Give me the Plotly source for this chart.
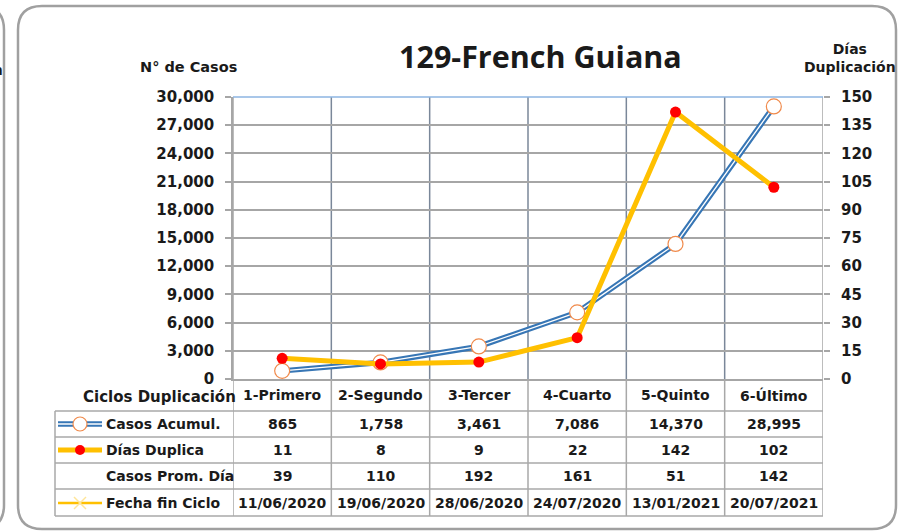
import plotly.graph_objects as go

# ─────────────────────────────────────────────
# Data
# ─────────────────────────────────────────────
ciclos = ["1-Primero", "2-Segundo", "3-Tercer", "4-Cuarto", "5-Quinto", "6-Último"]
casos_acumul = [865, 1758, 3461, 7086, 14370, 28995]
dias_duplica = [11, 8, 9, 22, 142, 102]
casos_prom_dia = [39, 110, 192, 161, 51, 142]
fecha_fin = ["11/06/2020", "19/06/2020", "28/06/2020", "24/07/2020", "13/01/2021", "20/07/2021"]

W, H = 898, 531
PL, PR, PT, PB = 233, 823, 97, 379   # plot area in pixels


def px_x(x):
    return (x - PL) / (PR - PL)


def px_y(y):
    return (PB - y) / (PB - PT)


FONT = "DejaVu Sans"
INK = "#1a1a1a"
BLUE = "#3776b5"
GOLD = "#ffc000"
GRID = "#a6a6a6"
TABLE = "#a8a8a8"

fig = go.Figure()

# Casos Acumul. - blue "double" line with hollow orange markers
fig.add_trace(go.Scatter(
    x=ciclos, y=casos_acumul, mode="lines", yaxis="y",
    line=dict(color=BLUE, width=5.5), hoverinfo="skip", showlegend=False,
))
fig.add_trace(go.Scatter(
    x=ciclos, y=casos_acumul, mode="lines+markers", yaxis="y",
    line=dict(color="white", width=1.3),
    marker=dict(symbol="circle", size=15, color="white",
                line=dict(color="#f08a4b", width=1.2)),
    name="Casos Acumul.", showlegend=False,
))

# Días Duplica - gold line with red markers on the right axis
fig.add_trace(go.Scatter(
    x=ciclos, y=dias_duplica, mode="lines+markers", yaxis="y2",
    line=dict(color=GOLD, width=5),
    marker=dict(symbol="circle", size=11, color="#ff0000"),
    name="Días Duplica", showlegend=False,
))

shapes = []
annotations = []

# vertical grid lines, through the plot and the table below
for i in range(7):
    xv = i - 0.5
    shapes.append(dict(type="line", xref="x", yref="paper", x0=xv, x1=xv,
                       y0=0, y1=1, line=dict(color="#7a8799" if 0 < i < 6 else GRID, width=1.5),
                       layer="below"))
    shapes.append(dict(type="line", xref="x", yref="paper", x0=xv, x1=xv,
                       y0=px_y(516), y1=0, line=dict(color=TABLE, width=1.5)))

# top border of the plot area in light blue
shapes.append(dict(type="line", xref="paper", yref="paper", x0=0, x1=1, y0=1, y1=1,
                   line=dict(color="#8db4e2", width=1.5)))

# table rows
row_lines = [411, 437, 463, 489, 516]
for yl in row_lines:
    shapes.append(dict(type="line", xref="paper", yref="paper",
                       x0=px_x(55), x1=1, y0=px_y(yl), y1=px_y(yl),
                       line=dict(color=TABLE, width=1.5)))
shapes.append(dict(type="line", xref="paper", yref="paper",
                   x0=px_x(55), x1=px_x(55), y0=px_y(411), y1=px_y(516),
                   line=dict(color=TABLE, width=1.5)))

# legend keys inside the table
ky1, ky2, ky4 = 424, 450, 503
shapes.append(dict(type="line", xref="paper", yref="paper", x0=px_x(58), x1=px_x(102),
                   y0=px_y(ky1), y1=px_y(ky1), line=dict(color=BLUE, width=5.5)))
shapes.append(dict(type="line", xref="paper", yref="paper", x0=px_x(58), x1=px_x(102),
                   y0=px_y(ky1), y1=px_y(ky1), line=dict(color="white", width=1.3)))
shapes.append(dict(type="circle", xref="paper", yref="paper", x0=px_x(73), x1=px_x(87),
                   y0=px_y(ky1 + 7), y1=px_y(ky1 - 7), fillcolor="white",
                   line=dict(color="#f08a4b", width=1.2)))
shapes.append(dict(type="line", xref="paper", yref="paper", x0=px_x(58), x1=px_x(102),
                   y0=px_y(ky2), y1=px_y(ky2), line=dict(color=GOLD, width=5)))
shapes.append(dict(type="circle", xref="paper", yref="paper", x0=px_x(75), x1=px_x(85),
                   y0=px_y(ky2 + 5), y1=px_y(ky2 - 5), fillcolor="#ff0000",
                   line=dict(color="#ff0000", width=0)))
shapes.append(dict(type="line", xref="paper", yref="paper", x0=px_x(58), x1=px_x(102),
                   y0=px_y(ky4), y1=px_y(ky4), line=dict(color=GOLD, width=2.5)))
for d in (-1, 1):
    shapes.append(dict(type="line", xref="paper", yref="paper", x0=px_x(74), x1=px_x(86),
                       y0=px_y(ky4 - 6 * d), y1=px_y(ky4 + 6 * d),
                       line=dict(color="#ffe699", width=1.5)))

# outer chart frame (rounded) and the edge of the neighbouring chart
def P(x, y):
    return f"{px_x(x):.5f},{px_y(y):.5f}"


r = 24
frame = (f"M {P(18, 6 + r)} Q {P(18, 6)} {P(18 + r, 6)} L {P(896 - r, 6)} "
         f"Q {P(896, 6)} {P(896, 6 + r)} L {P(896, 529 - r)} Q {P(896, 529)} {P(896 - r, 529)} "
         f"L {P(18 + r, 529)} Q {P(18, 529)} {P(18, 529 - r)} Z")
shapes.append(dict(type="path", xref="paper", yref="paper", path=frame,
                   line=dict(color="#a0a0a0", width=2.5), layer="below"))
neighbour = (f"M {P(-20, 6)} Q {P(4, 6)} {P(4, 6 + r)} L {P(4, 529 - r)} "
             f"Q {P(4, 529)} {P(-20, 529)}")
shapes.append(dict(type="path", xref="paper", yref="paper", path=neighbour,
                   line=dict(color="#a0a0a0", width=2.5), layer="below"))

bold = dict(family=FONT, size=14, color=INK, weight="bold")


def note(x, y, text, xanchor="center", font=bold, xref="paper"):
    return dict(x=x, y=y, xref=xref, yref="paper", text=text, showarrow=False,
                xanchor=xanchor, yanchor="middle", font=font)


# category header row and table cells
for i, c in enumerate(ciclos):
    annotations.append(note(c, px_y(395), c, xref="x"))
    for yy, val in ((424, f"{casos_acumul[i]:,}"), (450, str(dias_duplica[i])),
                    (476, str(casos_prom_dia[i])), (503, fecha_fin[i])):
        annotations.append(note(c, px_y(yy), val, xref="x"))

for yy, label in ((424, "Casos Acumul."), (450, "Días Duplica"),
                  (476, "Casos Prom. Día"), (503, "Fecha fin Ciclo")):
    annotations.append(note(px_x(104), px_y(yy), label, xanchor="left"))

annotations += [
    note(px_x(238), px_y(397), "Ciclos Duplicación", xanchor="right",
         font=dict(bold, size=15)),
    note(px_x(540), px_y(56), "129-French Guiana",
         font=dict(family="Open Sans", size=30.5, color=INK, weight="bold")),
    note(px_x(188), px_y(67), "N° de Casos", font=dict(bold, size=14.5)),
    note(px_x(850), px_y(58), "Días<br>Duplicación"),
    note(px_x(5), px_y(70), "Duplicación", xanchor="right"),
]

fig.update_layout(
    width=W, height=H,
    margin=dict(l=PL, r=W - PR, t=PT, b=H - PB),
    paper_bgcolor="white", plot_bgcolor="white",
    showlegend=False,
    xaxis=dict(type="category", categoryorder="array", categoryarray=ciclos,
               range=[-0.5, 5.5], showticklabels=False, showgrid=False,
               zeroline=False, showline=True, linecolor=GRID, linewidth=1.5, ticks=""),
    yaxis=dict(range=[0, 30000], dtick=3000, tickformat=",", showgrid=True,
               gridcolor=GRID, gridwidth=1.5, zeroline=False, showline=True,
               linecolor=GRID, linewidth=1.5, ticks="outside", ticklen=6,
               tickcolor=GRID, tickwidth=1.5, ticklabelstandoff=8,
               tickfont=dict(family=FONT, size=15, color=INK, weight="bold")),
    yaxis2=dict(range=[0, 150], dtick=15, overlaying="y", side="right",
                showgrid=False, zeroline=False, showline=False,
                ticks="outside", ticklen=6, tickcolor=GRID, tickwidth=1.5,
                ticklabelstandoff=8,
                tickfont=dict(family=FONT, size=15, color=INK, weight="bold")),
    shapes=shapes,
    annotations=annotations,
)

# drop the browser's default body margin so the figure sits at the window's corner
fig.write_html("out.html", config={"displayModeBar": False},
               post_script="document.body.style.margin='0';")
